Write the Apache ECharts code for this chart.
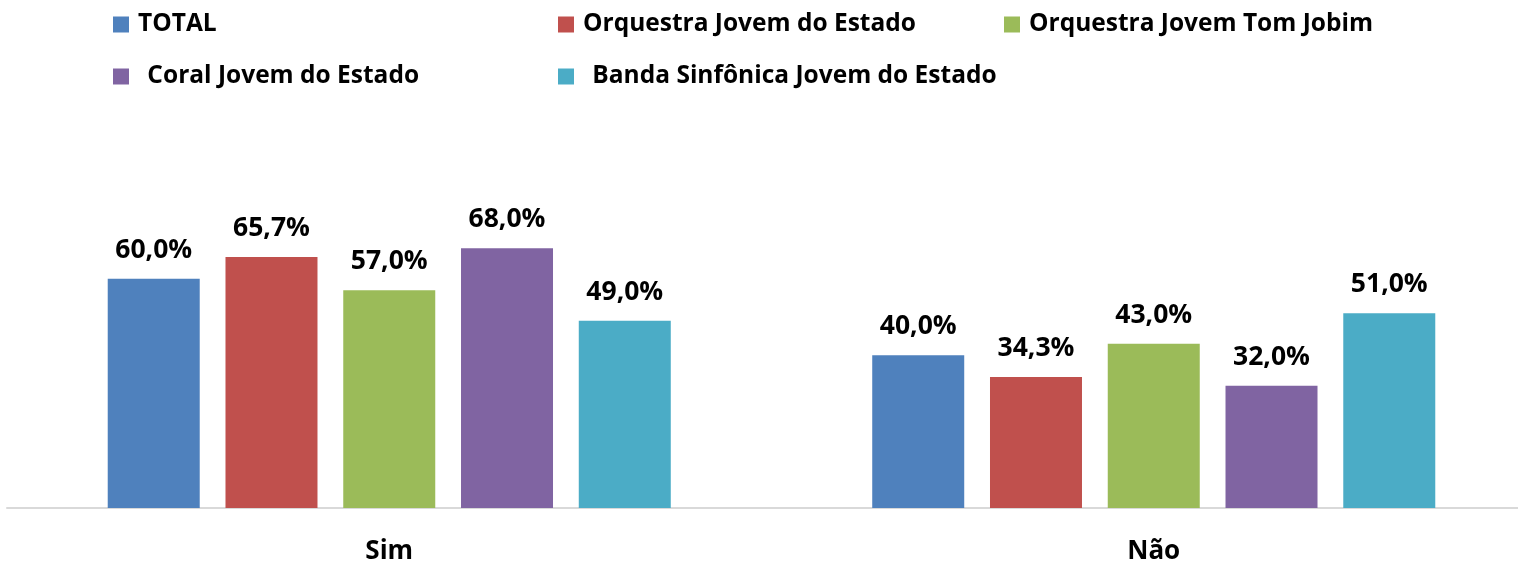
<!DOCTYPE html>
<html>
<head>
<meta charset="utf-8">
<script src="https://cdn.jsdelivr.net/npm/echarts@6/dist/echarts.min.js"></script>
<style>html,body{margin:0;padding:0;background:#fff;}#c{width:1518px;height:562px;}</style>
</head>
<body>
<div id="c"></div>
<script>
var categories = ['Sim', 'Não'];
var seriesNames = ['TOTAL', 'Orquestra Jovem do Estado', 'Orquestra Jovem Tom Jobim', 'Coral Jovem do Estado', 'Banda Sinfônica Jovem do Estado'];
var total = [60.0, 40.0];
var orquestraEstado = [65.7, 34.3];
var orquestraTomJobim = [57.0, 43.0];
var coral = [68.0, 32.0];
var banda = [49.0, 51.0];
var colors = ['#4F81BD', '#C0504D', '#9BBB59', '#8064A2', '#4BACC6'];

var values = [total, orquestraEstado, orquestraTomJobim, coral, banda];
var FONT = '"Open Sans", sans-serif';
var legendPos = [[113, 12], [558, 12], [1004, 12], [113, 64], [558, 64]];
var legendText = ['TOTAL', 'Orquestra Jovem do Estado', 'Orquestra Jovem Tom Jobim', ' Coral Jovem do Estado', ' Banda Sinfônica Jovem do Estado'];

var chart = echarts.init(document.getElementById('c'));
chart.setOption({
  animation: false,
  color: colors,
  legend: seriesNames.map(function (n, i) {
    return {
      left: legendPos[i][0], top: legendPos[i][1], padding: 0,
      data: [n], icon: 'rect', itemWidth: 16, itemHeight: 16, itemGap: 0,
      selectedMode: false,
      formatter: function () { return legendText[i]; },
      textStyle: { fontFamily: FONT, fontWeight: 'bold', fontSize: 24.5, color: '#000', padding: [0, 0, 0, i >= 3 ? 7 : 4] }
    };
  }),
  grid: { left: 7, width: 1529, top: 126, bottom: 54, containLabel: false, outerBoundsMode: 'none' },
  xAxis: {
    type: 'category', data: categories,
    axisLine: { lineStyle: { color: '#D9D9D9', width: 2 } },
    axisTick: { show: false },
    axisLabel: { fontFamily: FONT, fontWeight: 'bold', fontSize: 26, color: '#000', margin: 31 }
  },
  yAxis: { type: 'value', min: 0, max: 100, show: false, splitLine: { show: false } },
  series: seriesNames.map(function (n, i) {
    return {
      name: n, type: 'bar', data: values[i], barWidth: 92, barGap: '28%',
      itemStyle: { color: colors[i] },
      label: {
        show: true, position: 'top', distance: 15,
        fontFamily: FONT, fontWeight: 'bold', fontSize: 26.5, color: '#000',
        formatter: function (p) { return p.value.toFixed(1).replace('.', ',') + '%'; }
      }
    };
  })
});
</script>
</body>
</html>
